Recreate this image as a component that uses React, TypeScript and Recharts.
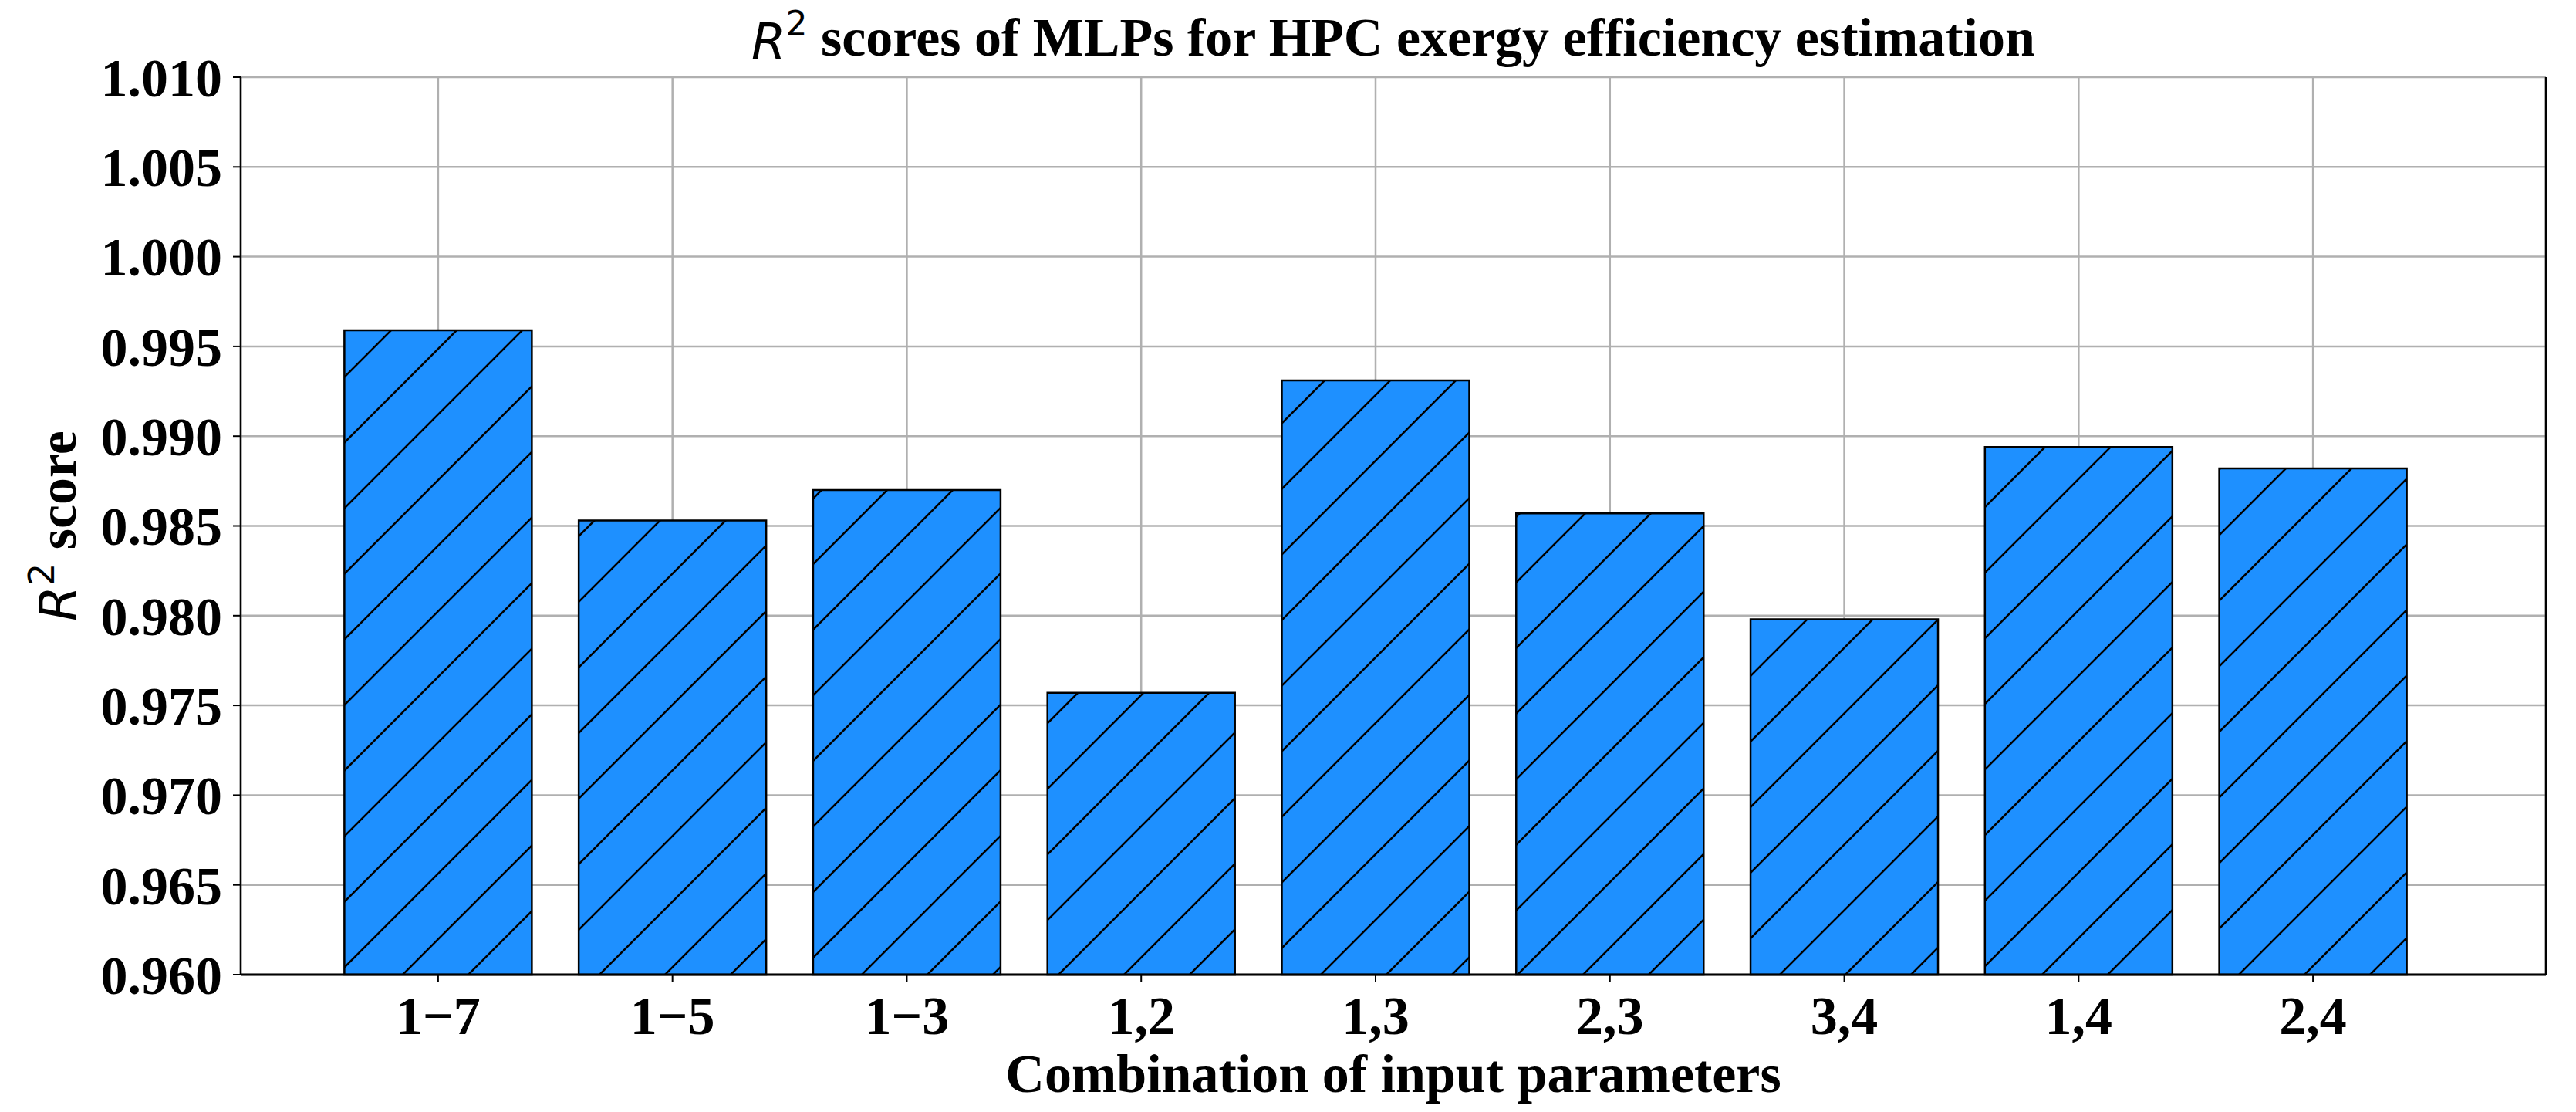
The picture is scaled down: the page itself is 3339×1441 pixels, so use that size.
import React from 'react';
import { BarChart, Bar, XAxis, YAxis, CartesianGrid } from 'recharts';

const combinations = ['1\u22127', '1\u22125', '1\u22123', '1,2', '1,3', '2,3', '3,4', '1,4', '2,4'];
const r2Scores = [0.9959, 0.9853, 0.987, 0.9757, 0.9931, 0.9857, 0.9798, 0.9894, 0.9882];
const yTicks = [0.96, 0.965, 0.97, 0.975, 0.98, 0.985, 0.99, 0.995, 1.0, 1.005, 1.01];

const data = combinations.map((combo, i) => ({ combo, score: r2Scores[i] }));

const W = 3339;
const H = 1441;
const PLOT_LEFT = 312;
const PLOT_RIGHT = 3300;
const PLOT_TOP = 100;
const PLOT_BOTTOM = 1263;
const CX = (PLOT_LEFT + PLOT_RIGHT) / 2;
const CY = (PLOT_TOP + PLOT_BOTTOM) / 2;

const SERIF = '"Liberation Serif", "Times New Roman", serif';
const SANS = '"DejaVu Sans", sans-serif';
const FS = 70;

const tickStyle = { fontSize: FS, fontFamily: SERIF, fontWeight: 'bold', fill: '#000' };

const XLabel = () => (
  <text x={CX} y={1415} textAnchor="middle" fill="#000" fontFamily={SERIF} fontWeight="bold" fontSize={FS}>
    Combination of input parameters
  </text>
);

// y label plus the chart title (kept together so they render in one place)
const YLabelAndTitle = () => (
  <g>
    <text x={CX} y={72} textAnchor="middle" fill="#000" fontSize={FS}>
      <tspan fontFamily={SANS} fontStyle="italic" fontSize={64} dy={4}>R</tspan>
      <tspan fontFamily={SANS} fontSize={44} dy={-30}>2</tspan>
      <tspan fontFamily={SERIF} fontWeight="bold" dy={26}> scores of MLPs for HPC exergy efficiency estimation</tspan>
    </text>
    <text
      x={98}
      y={CY}
      textAnchor="middle"
      fill="#000"
      fontSize={FS}
      transform={`rotate(-90, 98, ${CY})`}
    >
      <tspan fontFamily={SANS} fontStyle="italic" fontSize={66}>R</tspan>
      <tspan fontFamily={SANS} fontSize={46} dy={-28}>2</tspan>
      <tspan fontFamily={SERIF} fontWeight="bold" dy={28}> score</tspan>
    </text>
  </g>
);

export default function App() {
  return (
    <div style={{ position: 'absolute', left: 0, top: 0, width: W, height: H, background: '#fff' }}>
      <BarChart
        width={W}
        height={H}
        data={data}
        margin={{ top: PLOT_TOP, right: 0, bottom: 8, left: 0 }}
        barCategoryGap="10%"
      >
        <defs>
          <pattern id="hatch" patternUnits="userSpaceOnUse" width={85} height={85}>
            <rect x={0} y={0} width={85} height={85} fill="#1E90FF" />
            <path
              d="M0,85 L85,0 M-20,20 L20,-20 M65,105 L105,65"
              stroke="#000"
              strokeWidth={2.6}
            />
          </pattern>
        </defs>
        <CartesianGrid stroke="#b0b0b0" strokeWidth={2.5} />
        <XAxis
          dataKey="combo"
          height={H - PLOT_BOTTOM - 8}
          padding={{ left: 104, right: 150 }}
          interval={0}
          tickSize={10}
          tickMargin={17}
          tick={tickStyle}
          axisLine={{ stroke: '#000', strokeWidth: 3 }}
          tickLine={{ stroke: '#000', strokeWidth: 2 }}
          label={{ content: () => <XLabel /> }}
        />
        <XAxis
          xAxisId="top"
          orientation="top"
          dataKey="combo"
          height={0}
          tick={false}
          tickLine={false}
          axisLine={{ stroke: '#000', strokeWidth: 3 }}
        />
        <YAxis
          type="number"
          domain={[0.96, 1.01]}
          ticks={yTicks}
          interval={0}
          width={PLOT_LEFT}
          tickFormatter={(v: number) => v.toFixed(3)}
          tickSize={10}
          tickMargin={14}
          tick={tickStyle}
          axisLine={{ stroke: '#000', strokeWidth: 2.5 }}
          tickLine={{ stroke: '#000', strokeWidth: 2 }}
          label={{ content: () => <YLabelAndTitle /> }}
        />
        <YAxis
          yAxisId="right"
          orientation="right"
          type="number"
          domain={[0.96, 1.01]}
          width={W - PLOT_RIGHT}
          tick={false}
          tickLine={false}
          axisLine={{ stroke: '#000', strokeWidth: 2.5 }}
        />
        <Bar
          dataKey="score"
          fill="url(#hatch)"
          stroke="#000"
          strokeWidth={2.5}
          isAnimationActive={false}
        />
      </BarChart>
    </div>
  );
}
